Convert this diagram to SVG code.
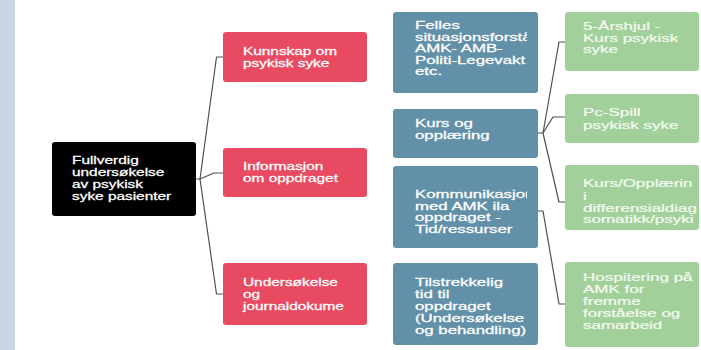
<svg xmlns="http://www.w3.org/2000/svg" width="701" height="350" viewBox="0 0 701 350">
<style>
.t{font-family:"Liberation Sans",Arial,sans-serif;font-size:10px;fill:#ffffff;stroke:#ffffff;stroke-width:0.25}
.tg{font-family:"Liberation Sans",Arial,sans-serif;font-size:10px;fill:#f3faf1;stroke:#f3faf1;stroke-width:0.2}
.root{fill:#000000}
.red{fill:#e84a62}
.blue{fill:#6190a8}
.green{fill:#a2d09b}
.conn{fill:none;stroke:#505050;stroke-width:1.2;stroke-linejoin:round}
</style>
<defs>
<clipPath id="cb"><rect x="393" y="0" width="134" height="350"/></clipPath>
<clipPath id="cg"><rect x="565" y="0" width="132" height="350"/></clipPath>
</defs>
<rect x="0" y="0" width="701" height="350" fill="#ffffff"/>
<rect x="0" y="0" width="15" height="350" fill="#cad5e6"/>

<g id="connectors">
<polyline class="conn" points="196,179 200,179 216.5,57 223,57"/>
<polyline class="conn" points="200,179 214,173 223,173"/>
<polyline class="conn" points="200,179 216.5,294 223,294"/>
<polyline class="conn" points="538,133 543,133 559,42 565,42"/>
<polyline class="conn" points="543,133 553,117 565,117"/>
<polyline class="conn" points="543,133 559,202 565,202"/>
<polyline class="conn" points="538,211 543,211 559,304 565,304"/>
</g>

<g id="root">
<rect class="root" x="52" y="142" width="144" height="74" rx="3"/>
<text class="t" transform="translate(72 0) scale(1.54 1)"><tspan x="0" y="164">Fullverdig</tspan><tspan x="0" y="176">undersøkelse</tspan><tspan x="0" y="188">av psykisk</tspan><tspan x="0" y="200">syke pasienter</tspan></text>
</g>

<g id="kunnskap">
<rect class="red" x="223" y="32" width="144" height="50" rx="3"/>
<text class="t" transform="translate(243 0) scale(1.54 1)"><tspan x="0" y="55">Kunnskap om</tspan><tspan x="0" y="67">psykisk syke</tspan></text>
</g>
<g id="informasjon">
<rect class="red" x="223" y="148" width="144" height="49" rx="3"/>
<text class="t" transform="translate(243 0) scale(1.54 1)"><tspan x="0" y="170">Informasjon</tspan><tspan x="0" y="182">om oppdraget</tspan></text>
</g>
<g id="undersokelse">
<rect class="red" x="223" y="263" width="144" height="62" rx="3"/>
<text class="t" transform="translate(243 0) scale(1.54 1)"><tspan x="0" y="286">Undersøkelse</tspan><tspan x="0" y="298">og</tspan><tspan x="0" y="310">journaldokume</tspan></text>
</g>

<g id="felles">
<rect class="blue" x="393" y="12" width="145" height="81" rx="3"/>
<g clip-path="url(#cb)"><text class="t" transform="translate(415 0) scale(1.68 1)"><tspan x="0" y="29">Felles</tspan><tspan x="0" y="41">situasjonsforstå</tspan><tspan x="0" y="52.5">AMK- AMB-</tspan><tspan x="0" y="64">Politi-Legevakt</tspan><tspan x="0" y="75.5">etc.</tspan></text></g>
</g>
<g id="kurs">
<rect class="blue" x="393" y="109" width="145" height="49" rx="3"/>
<text class="t" transform="translate(415 0) scale(1.68 1)"><tspan x="0" y="127">Kurs og</tspan><tspan x="0" y="139">opplæring</tspan></text>
</g>
<g id="kommunikasjon">
<rect class="blue" x="393" y="166" width="145" height="82" rx="3"/>
<g clip-path="url(#cb)"><text class="t" transform="translate(415 0) scale(1.68 1)"><tspan x="0" y="198.5">Kommunikasjon</tspan><tspan x="0" y="210">med AMK ila</tspan><tspan x="0" y="221.5">oppdraget -</tspan><tspan x="0" y="233.5">Tid/ressurser</tspan></text></g>
</g>
<g id="tilstrekkelig">
<rect class="blue" x="393" y="263" width="145" height="82" rx="3"/>
<text class="t" transform="translate(415 0) scale(1.68 1)"><tspan x="0" y="286">Tilstrekkelig</tspan><tspan x="0" y="298">tid til</tspan><tspan x="0" y="310">oppdraget</tspan><tspan x="0" y="322">(Undersøkelse</tspan><tspan x="0" y="334">og behandling)</tspan></text>
</g>

<g id="arshjul">
<rect class="green" x="565" y="12" width="134" height="59" rx="3"/>
<text class="tg" transform="translate(583 0) scale(1.7 1)"><tspan x="0" y="30">5-Årshjul -</tspan><tspan x="0" y="42">Kurs psykisk</tspan><tspan x="0" y="53.5">syke</tspan></text>
</g>
<g id="pcspill">
<rect class="green" x="565" y="94" width="134" height="49" rx="3"/>
<text class="tg" transform="translate(583 0) scale(1.7 1)"><tspan x="0" y="116.5">Pc-Spill</tspan><tspan x="0" y="129.5">psykisk syke</tspan></text>
</g>
<g id="opplaering">
<rect class="green" x="565" y="165" width="134" height="65" rx="3"/>
<g clip-path="url(#cg)"><text class="tg" transform="translate(583 0) scale(1.7 1)"><tspan x="0" y="187.5">Kurs/Opplærin</tspan><tspan x="0" y="200">i</tspan><tspan x="0" y="212">differensialdiag</tspan><tspan x="0" y="223.5">somatikk/psyki</tspan></text></g>
</g>
<g id="hospitering">
<rect class="green" x="565" y="262" width="134" height="85" rx="3"/>
<text class="tg" transform="translate(583 0) scale(1.7 1)"><tspan x="0" y="281">Hospitering på</tspan><tspan x="0" y="293.5">AMK for</tspan><tspan x="0" y="305">fremme</tspan><tspan x="0" y="317.5">forståelse og</tspan><tspan x="0" y="329.5">samarbeid</tspan></text>
</g>
</svg>
